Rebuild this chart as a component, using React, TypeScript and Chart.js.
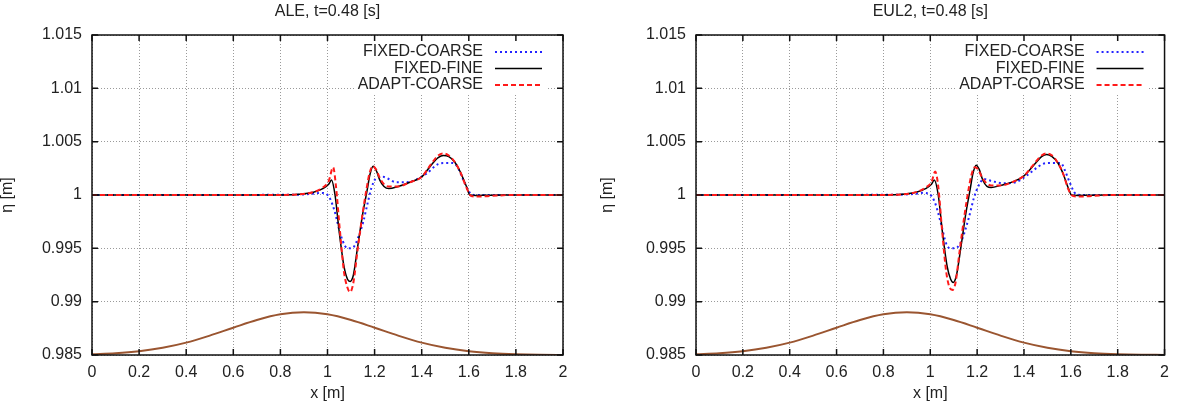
import React, { useEffect, useRef } from 'react';
import { Chart, registerables } from 'chart.js';

Chart.register(...registerables);

const FONT = '"Liberation Sans", Arial, Helvetica, sans-serif';
const TEXT = '#222222';

// Tick labels
const xTickLabels = ['0', '0.2', '0.4', '0.6', '0.8', '1', '1.2', '1.4', '1.6', '1.8', '2'];
const yTickLabels = ['0.985', '0.99', '0.995', '1', '1.005', '1.01', '1.015'];

// Series names
const seriesLabels = ['FIXED-COARSE', 'FIXED-FINE', 'ADAPT-COARSE'];
const panelTitles = ['ALE, t=0.48 [s]', 'EUL2, t=0.48 [s]'];

// Bathymetry (shown scaled, bottom curve)
const bedX = [0, 0.1, 0.2, 0.3, 0.4, 0.5, 0.6, 0.7, 0.8, 0.9, 1.0, 1.1, 1.2, 1.3, 1.4, 1.5, 1.6, 1.7, 1.8, 1.9, 2.0];
const bedY = [0.98507, 0.98517, 0.98536, 0.98568, 0.98616, 0.98682, 0.98756, 0.98828, 0.98881, 0.989, 0.98881,
  0.98828, 0.98756, 0.98682, 0.98616, 0.98568, 0.98536, 0.98517, 0.98507, 0.98502, 0.98501];

// ALE panel
const aleCoarseX = [0, 0.85, 0.93, 0.97, 0.995, 1.012, 1.03, 1.054, 1.075, 1.09, 1.11, 1.13, 1.152, 1.17, 1.187,
  1.208, 1.236, 1.26, 1.29, 1.33, 1.36, 1.42, 1.47, 1.5, 1.53, 1.55, 1.577, 1.605, 1.626, 1.66, 2];
const aleCoarseY = [1, 1.00002, 1.0001, 1.0002, 1.0001, 0.9996, 0.9985, 0.9964, 0.9952, 0.995, 0.9951, 0.996, 0.9975,
  0.9992, 1.0007, 1.0016, 1.0017, 1.0015, 1.0012, 1.0012, 1.0013, 1.002, 1.0029, 1.003, 1.003, 1.0027, 1.0014,
  1.0002, 1.0, 1.0, 1];

const aleFineX = [0, 0.8, 0.88, 0.94, 0.98, 1.005, 1.017, 1.032, 1.05, 1.07, 1.085, 1.096, 1.11, 1.127, 1.15, 1.168,
  1.18, 1.194, 1.207, 1.222, 1.24, 1.26, 1.3, 1.35, 1.4, 1.44, 1.47, 1.492, 1.515, 1.54, 1.563, 1.59, 1.605, 1.63,
  1.68, 1.75, 2];
const aleFineY = [1, 1.00001, 1.00006, 1.00025, 1.0006, 1.001, 1.0014, 1.0, 0.9965, 0.9933, 0.9921, 0.9919, 0.9925,
  0.995, 0.9983, 1.0004, 1.0019, 1.0027, 1.0023, 1.0014, 1.0008, 1.0006, 1.0008, 1.0012, 1.0017, 1.0028, 1.0035,
  1.0037, 1.0036, 1.0031, 1.0022, 1.0008, 1.0, 0.99996, 0.99998, 1, 1];

const aleAdaptX = [0, 0.8, 0.88, 0.94, 0.98, 1.005, 1.024, 1.036, 1.052, 1.07, 1.085, 1.096, 1.11, 1.127, 1.15, 1.166,
  1.178, 1.192, 1.206, 1.222, 1.24, 1.26, 1.3, 1.35, 1.4, 1.44, 1.47, 1.492, 1.515, 1.54, 1.563, 1.59, 1.61, 1.64,
  1.7, 1.78, 2];
const aleAdaptY = [1, 1.00001, 1.00006, 1.00027, 1.0007, 1.0013, 1.0026, 1.0008, 0.9968, 0.9928, 0.9913, 0.9909,
  0.9918, 0.9947, 0.9984, 1.0006, 1.002, 1.0027, 1.0024, 1.0016, 1.001, 1.0008, 1.0008, 1.0012, 1.0017, 1.0029,
  1.0037, 1.0039, 1.0037, 1.0031, 1.0022, 1.0007, 0.9999, 0.99985, 0.99992, 1, 1];

// EUL2 panel
const eulCoarseX = [0, 0.85, 0.93, 0.97, 0.995, 1.018, 1.046, 1.067, 1.085, 1.1, 1.116, 1.135, 1.165, 1.186, 1.207,
  1.228, 1.263, 1.312, 1.365, 1.41, 1.48, 1.51, 1.557, 1.575, 1.593, 1.621, 1.645, 2];
const eulCoarseY = [1, 1.00002, 1.0001, 1.0002, 1.0001, 0.9994, 0.9973, 0.9955, 0.995, 0.995, 0.9951, 0.9958, 0.9979,
  0.9997, 1.0009, 1.0015, 1.0013, 1.0011, 1.0012, 1.0018, 1.0029, 1.003, 1.003, 1.0023, 1.0013, 1.0001, 1.0, 1];

const eulFineX = [0, 0.8, 0.88, 0.94, 0.98, 1.005, 1.017, 1.034, 1.052, 1.072, 1.087, 1.098, 1.112, 1.13, 1.152, 1.17,
  1.182, 1.196, 1.209, 1.224, 1.242, 1.26, 1.3, 1.36, 1.4, 1.45, 1.475, 1.497, 1.52, 1.545, 1.567, 1.59, 1.603, 1.63,
  1.68, 1.75, 2];
const eulFineY = [1, 1.00001, 1.00006, 1.00025, 1.0006, 1.001, 1.0014, 1.0, 0.9965, 0.9933, 0.9921, 0.9918, 0.9925,
  0.995, 0.9983, 1.0005, 1.002, 1.0028, 1.0024, 1.0014, 1.0008, 1.0007, 1.0009, 1.0013, 1.0018, 1.003, 1.0036,
  1.0038, 1.0036, 1.003, 1.002, 1.0006, 1.0, 0.99996, 0.99998, 1, 1];

const eulAdaptX = [0, 0.8, 0.88, 0.94, 0.98, 1.005, 1.021, 1.034, 1.05, 1.068, 1.083, 1.095, 1.108, 1.125, 1.148,
  1.164, 1.176, 1.19, 1.204, 1.22, 1.24, 1.26, 1.3, 1.36, 1.4, 1.45, 1.475, 1.497, 1.52, 1.545, 1.567, 1.59, 1.61,
  1.64, 1.7, 1.78, 2];
const eulAdaptY = [1, 1.00001, 1.00006, 1.00027, 1.0007, 1.0012, 1.0022, 1.0008, 0.9968, 0.9928, 0.9913, 0.9911,
  0.9918, 0.9947, 0.9984, 1.0006, 1.0019, 1.0026, 1.0024, 1.0017, 1.0011, 1.0009, 1.0009, 1.0013, 1.0018, 1.0031,
  1.0037, 1.0039, 1.0037, 1.003, 1.002, 1.0005, 0.9999, 0.99985, 0.99992, 1, 1];

function pts(xs: number[], ys: number[]) {
  return xs.map((x, i) => ({ x, y: ys[i] }));
}

function makeDatasets(cx: number[], cy: number[], fx: number[], fy: number[], ax: number[], ay: number[]) {
  const common = { pointRadius: 0, cubicInterpolationMode: 'monotone' as const, fill: false };
  return [
    { ...common, label: seriesLabels[0], data: pts(cx, cy), borderColor: '#2424ff', borderWidth: 2, borderDash: [2, 3], order: 3 },
    { ...common, label: seriesLabels[1], data: pts(fx, fy), borderColor: '#000000', borderWidth: 1.5, order: 2 },
    { ...common, label: seriesLabels[2], data: pts(ax, ay), borderColor: '#ff1a1a', borderWidth: 2, borderDash: [5, 3], order: 1 },
    { ...common, label: '', data: pts(bedX, bedY), borderColor: '#9a5530', borderWidth: 2, order: 4 },
  ];
}

const gnuFrame = {
  id: 'gnuFrame',
  afterDatasetsDraw(chart: any) {
    const { ctx, chartArea: a } = chart;
    ctx.save();
    ctx.font = `16px ${FONT}`;
    const items = chart.data.datasets.filter((d: any) => d.label);
    const textRight = a.right - 80;
    const maxW = Math.max(...items.map((d: any) => ctx.measureText(d.label).width));
    const boxL = textRight - maxW - 3;
    ctx.fillStyle = '#ffffff';
    ctx.fillRect(boxL, a.top + 2, a.right - 17 - boxL, 56);
    items.forEach((d: any, i: number) => {
      const y = a.top + 17 + i * 16.5;
      ctx.fillStyle = TEXT;
      ctx.textAlign = 'right';
      ctx.textBaseline = 'middle';
      ctx.fillText(d.label, textRight, y);
      ctx.strokeStyle = d.borderColor;
      ctx.lineWidth = d.borderWidth;
      ctx.setLineDash(d.borderDash || []);
      ctx.beginPath();
      ctx.moveTo(a.right - 68, y);
      ctx.lineTo(a.right - 21, y);
      ctx.stroke();
    });
    ctx.restore();
  },
  afterDraw(chart: any) {
    const { ctx, chartArea: a, scales } = chart;
    ctx.save();
    ctx.strokeStyle = '#111111';
    ctx.lineWidth = 1.5;
    ctx.setLineDash([]);
    const L = 6;
    ctx.beginPath();
    scales.x.ticks.forEach((t: any) => {
      const px = scales.x.getPixelForValue(t.value);
      ctx.moveTo(px, a.bottom);
      ctx.lineTo(px, a.bottom - L);
      ctx.moveTo(px, a.top);
      ctx.lineTo(px, a.top + L);
    });
    scales.y.ticks.forEach((t: any) => {
      const py = scales.y.getPixelForValue(t.value);
      ctx.moveTo(a.left, py);
      ctx.lineTo(a.left + L, py);
      ctx.moveTo(a.right, py);
      ctx.lineTo(a.right - L, py);
    });
    ctx.stroke();
    ctx.strokeRect(a.left, a.top, a.right - a.left, a.bottom - a.top);
    ctx.restore();
  },
};

type PanelProps = {
  title: string;
  datasets: any[];
  left: number;
  width: number;
  padL: number;
  padR: number;
  yW: number;
  yTitlePad: number;
};

function Panel({ title, datasets, left, width, padL, padR, yW, yTitlePad }: PanelProps) {
  const ref = useRef<HTMLCanvasElement>(null);
  useEffect(() => {
    const font = { family: FONT, size: 16, weight: 'normal' as const };
    const grid = { color: '#9a9a9a', lineWidth: 1, drawTicks: false };
    const border = { display: false, dash: [1, 2] };
    const chart = new Chart(ref.current as HTMLCanvasElement, {
      type: 'line',
      data: { datasets },
      plugins: [gnuFrame],
      options: {
        animation: false,
        responsive: false,
        devicePixelRatio: 1,
        layout: { padding: { left: padL, right: padR, top: 0, bottom: 0 } },
        plugins: {
          legend: { display: false },
          tooltip: { enabled: false },
          title: {
            display: true,
            text: title,
            fullSize: false,
            color: TEXT,
            font,
            padding: { top: 2.4, bottom: 13.4 },
          },
        },
        scales: {
          x: {
            type: 'linear',
            min: 0,
            max: 2,
            afterFit: (s: any) => { s.height = 59; },
            ticks: {
              stepSize: 0.2,
              autoSkip: false,
              maxRotation: 0,
              padding: 8,
              color: TEXT,
              font,
              callback: (v: any) => xTickLabels.find((l) => Math.abs(Number(l) - v) < 1e-9) ?? '',
            },
            grid,
            border,
            title: { display: true, text: 'x [m]', color: TEXT, font, padding: { top: 0, bottom: 11 } },
          },
          y: {
            type: 'linear',
            min: 0.985,
            max: 1.015,
            afterFit: (s: any) => { s.width = yW; },
            ticks: {
              stepSize: 0.005,
              autoSkip: false,
              padding: 10,
              color: TEXT,
              font,
              callback: (v: any) => yTickLabels.find((l) => Math.abs(Number(l) - v) < 1e-9) ?? '',
            },
            grid,
            border,
            title: { display: true, text: 'η [m]', color: TEXT, font, padding: { top: yTitlePad, bottom: 0 } },
          },
        },
      } as any,
    });
    return () => chart.destroy();
  }, []);
  return (
    <canvas
      ref={ref}
      width={width}
      height={414}
      style={{ position: 'absolute', left, top: 0, width, height: 414 }}
    />
  );
}

export default function App() {
  const aleSets = makeDatasets(aleCoarseX, aleCoarseY, aleFineX, aleFineY, aleAdaptX, aleAdaptY);
  const eulSets = makeDatasets(eulCoarseX, eulCoarseY, eulFineX, eulFineY, eulAdaptX, eulAdaptY);
  return (
    <div style={{ position: 'fixed', left: 0, top: 0, width: 1177, height: 414, background: '#ffffff' }}>
      <Panel title={panelTitles[0]} datasets={aleSets} left={0} width={588} padL={0} padR={25} yW={92} yTitlePad={-2} />
      <Panel title={panelTitles[1]} datasets={eulSets} left={588} width={589} padL={10} padR={11} yW={98} yTitlePad={0} />
    </div>
  );
}
